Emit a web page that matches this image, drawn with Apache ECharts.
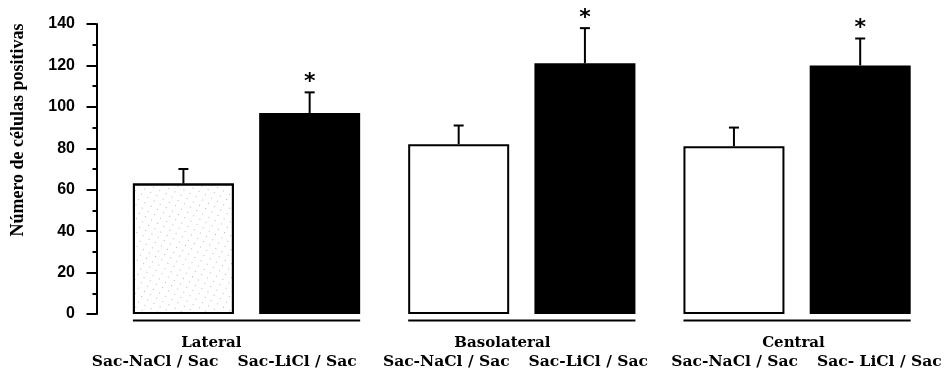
<!DOCTYPE html>
<html>
<head>
<meta charset="utf-8">
<script src="https://cdn.jsdelivr.net/npm/echarts@6/dist/echarts.min.js"></script>
<style>
  html, body { margin: 0; padding: 0; background: #fff; }
  #chart { width: 952px; height: 375px; }
</style>
</head>
<body>
<div id="chart"></div>
<script>
// Amygdala regions and the two conditioning groups
const regions = ['Lateral', 'Basolateral', 'Central'];
const treatments = ['Sac-NaCl / Sac', 'Sac-LiCl / Sac'];
const barCaptions = [
  ['Sac-NaCl / Sac', 'Sac-LiCl / Sac'],
  ['Sac-NaCl / Sac', 'Sac-LiCl / Sac'],
  ['Sac-NaCl / Sac', 'Sac- LiCl / Sac']
];

// Mean number of positive cells and standard error per region
const naclMean = [63, 82, 81];
const naclSem = [7, 9, 9];
const liclMean = [97, 121, 120];
const liclSem = [10, 17, 13];
const liclSignificant = [true, true, true];

// Value axis ticks
const yTicks = [0, 20, 40, 60, 80, 100, 120, 140];
const yTitle = 'Número de células positivas';

const BAR_W = 101;
const BAR_GAP = '25%';
const SERIF = '"DejaVu Serif", serif';

function barSlots(api) {
  return api.barLayout({ count: 2, barWidth: BAR_W, barGap: BAR_GAP });
}

// Error bars (mean to mean + SEM) with an optional significance star
function errorSeries(name, means, sems, slot, stars) {
  return {
    type: 'custom',
    name: name + ' SEM',
    xAxisIndex: 0,
    yAxisIndex: 0,
    z: 5,
    silent: true,
    clip: false,
    data: means.map((m, i) => [i, m, m + sems[i], stars && stars[i] ? 1 : 0]),
    encode: { x: 0, y: [1, 2] },
    renderItem(params, api) {
      const idx = api.value(0);
      const slotLayout = barSlots(api)[slot];
      const base = api.coord([idx, api.value(1)]);
      const top = api.coord([idx, api.value(2)]);
      const x = base[0] + slotLayout.offset + slotLayout.width / 2;
      const children = [
        { type: 'line', shape: { x1: x, y1: base[1], x2: x, y2: top[1] },
          style: { stroke: '#000', lineWidth: 2 } },
        { type: 'line', shape: { x1: x - 5, y1: top[1], x2: x + 5, y2: top[1] },
          style: { stroke: '#000', lineWidth: 2 } }
      ];
      if (api.value(3)) {
        children.push({
          type: 'text', x: x, y: top[1] - 10,
          style: { text: '*', font: 'bold 22px "DejaVu Sans"', fill: '#000',
                   align: 'center', verticalAlign: 'middle' }
        });
      }
      return { type: 'group', children };
    }
  };
}

const chart = echarts.init(document.getElementById('chart'), null, { renderer: 'canvas' });

chart.setOption({
  animation: false,
  backgroundColor: '#fff',
  grid: [
    { left: 108.9, right: 17.3, top: 24, bottom: 61 },
    { left: 78.8, width: 880.6, top: 24, bottom: 61 }
  ],
  graphic: [{
    type: 'text',
    x: 18, y: 130,
    rotation: Math.PI / 2,
    style: {
      text: yTitle,
      font: 'bold 18px "Liberation Serif"',
      fill: '#000',
      align: 'center',
      verticalAlign: 'middle'
    }
  }],
  xAxis: [
    { type: 'category', gridIndex: 0, data: regions, show: false },
    {
      type: 'category', gridIndex: 1, data: regions,
      axisLine: { show: false }, axisTick: { show: false },
      axisLabel: {
        interval: 0, margin: 20.5, color: '#000',
        formatter: (value, index) =>
          '{t|' + value + '}\n{s|' + barCaptions[index][0] + '}{g| }{s|' + barCaptions[index][1] + '}',
        rich: {
          t: { fontFamily: SERIF, fontWeight: 'bold', fontSize: 15, lineHeight: 18,
               color: '#000', padding: [0, 26, 0, 0] },
          s: { fontFamily: SERIF, fontWeight: 'bold', fontSize: 15.5, lineHeight: 19, color: '#000' },
          g: { width: 19, fontSize: 15.5, lineHeight: 19 }
        }
      }
    }
  ],
  yAxis: [
    {
      type: 'value', gridIndex: 0,
      min: yTicks[0], max: yTicks[yTicks.length - 1], interval: yTicks[1] - yTicks[0],
      offset: 12.4,
      splitLine: { show: false },
      axisLine: { show: true, lineStyle: { color: '#000', width: 2 } },
      axisTick: { show: true, length: 10, lineStyle: { color: '#000', width: 2 } },
      minorTick: { show: true, splitNumber: 2, length: 4, lineStyle: { color: '#000', width: 2 } },
      axisLabel: {
        margin: 21.5, color: '#000',
        fontFamily: '"Liberation Sans", Arial, sans-serif', fontWeight: 'bold', fontSize: 16,
        padding: [9, 0, 0, 0]
      }
    },
    { type: 'value', gridIndex: 1, show: false, min: 0, max: 140 }
  ],
  series: [
    {
      type: 'bar', name: treatments[0], xAxisIndex: 0, yAxisIndex: 0,
      barWidth: BAR_W, barGap: BAR_GAP,
      data: naclMean.map((v, i) => i === 0 ? {
        value: v,
        itemStyle: {
          decal: { symbol: 'rect', symbolSize: 1, dashArrayX: [1, 6], dashArrayY: [1, 5],
                   rotation: 0.5, color: 'rgba(0,0,0,0.28)' }
        }
      } : v),
      itemStyle: { color: '#fff', borderColor: '#000', borderWidth: 2 }
    },
    {
      type: 'bar', name: treatments[1], xAxisIndex: 0, yAxisIndex: 0,
      barWidth: BAR_W, barGap: BAR_GAP,
      data: liclMean,
      itemStyle: { color: '#000' }
    },
    errorSeries(treatments[0], naclMean, naclSem, 0, null),
    errorSeries(treatments[1], liclMean, liclSem, 1, liclSignificant),
    {
      // rule beneath each region's pair of bars
      type: 'custom', name: 'baseline', xAxisIndex: 0, yAxisIndex: 0,
      silent: true, clip: false, z: 4,
      data: regions.map((r, i) => [i, 0]),
      encode: { x: 0, y: 1 },
      renderItem(params, api) {
        const slots = barSlots(api);
        const c = api.coord([api.value(0), 0]);
        const y = c[1] + 6.5;
        return {
          type: 'line',
          shape: { x1: c[0] + slots[0].offset, y1: y,
                   x2: c[0] + slots[1].offset + slots[1].width, y2: y },
          style: { stroke: '#000', lineWidth: 2 }
        };
      }
    }
  ]
});
</script>
</body>
</html>
